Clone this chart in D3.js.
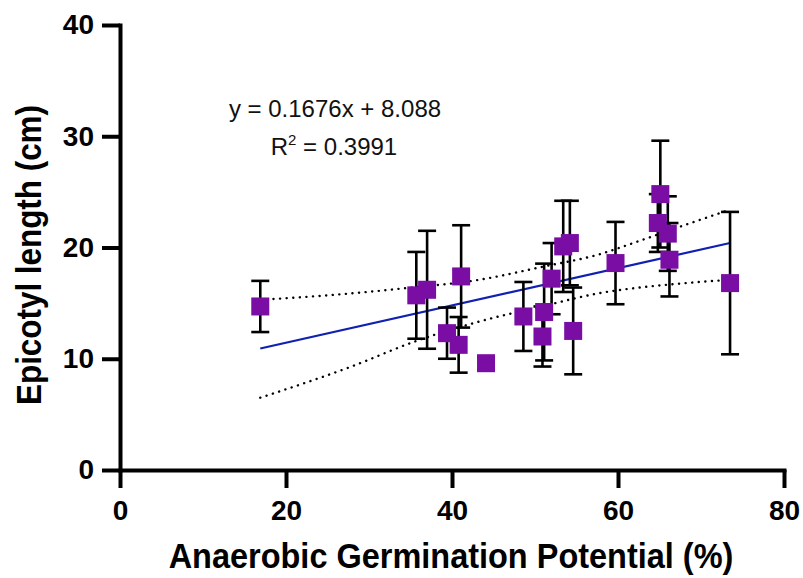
<!DOCTYPE html>
<html>
<head>
<meta charset="utf-8">
<script src="https://cdn.jsdelivr.net/npm/d3@7/dist/d3.min.js"></script>
<style>
  html, body { margin: 0; padding: 0; background: #fff; }
  svg { display: block; font-family: "Liberation Sans", Arial, sans-serif; }
</style>
</head>
<body>
<svg id="chart" width="803" height="578"></svg>
<script>
// ---- data ----
const germination = [16.9, 35.7, 37.0, 41.1, 39.4, 40.8, 44.1, 48.6, 50.9, 51.1, 52.0, 53.4, 54.2, 54.6, 59.7, 65.1, 64.8, 66.0, 66.2, 73.5];
const epicotyl    = [14.7, 15.7, 16.2, 17.4, 12.3, 11.25, 9.6, 13.8, 12.0, 14.2, 17.2, 20.1, 20.4, 12.5, 18.6, 24.8, 22.2, 21.25, 18.9, 16.8];
const errorSD     = [2.3, 3.9, 5.3, 4.6, 2.3, 2.5, 0.6, 3.1, 2.7, 4.35, 3.2, 4.1, 3.8, 3.9, 3.7, 4.8, 2.6, 3.35, 3.3, 6.4];

const slope = 0.1676, intercept = 8.088;
const fitRange = [16.9, 73.5];

const bandUpperX = [16.9, 25.0, 34.5, 43.3, 50.8, 57.8, 62.6, 67.4, 73.5];
const bandUpperY = [15.3, 15.7, 16.35, 17.1, 18.25, 19.4, 20.6, 21.85, 23.4];
const bandLowerX = [16.9, 27.7, 35.7, 43.3, 50.8, 57.8, 62.6, 67.4, 73.5];
const bandLowerY = [6.5, 9.25, 11.6, 13.35, 14.7, 15.9, 16.4, 16.75, 17.1];

const xTicks = [0, 20, 40, 60, 80];
const yTicks = [0, 10, 20, 30, 40];

const xTitle = "Anaerobic Germination Potential (%)";
const yTitle = "Epicotyl length (cm)";
const eqText = "y = 0.1676x + 8.088";
const r2Value = "0.3991";

// ---- layout ----
const svg = d3.select("#chart");
const x = d3.scaleLinear().domain([0, 80]).range([120, 784]);
const y = d3.scaleLinear().domain([0, 40]).range([470, 25]);

// axes
const xAxis = svg.append("g").attr("transform", `translate(0,${y(0)})`)
  .call(d3.axisBottom(x).tickValues(xTicks).tickSize(18).tickSizeOuter(0).tickPadding(12));
const yAxis = svg.append("g").attr("transform", `translate(${x(0)},0)`)
  .call(d3.axisLeft(y).tickValues(yTicks).tickSize(18).tickSizeOuter(0).tickPadding(8));

[xAxis, yAxis].forEach(g => {
  g.select(".domain").attr("stroke", "#000").attr("stroke-width", 4).attr("stroke-linecap", "square");
  g.selectAll(".tick line").attr("stroke", "#000").attr("stroke-width", 4);
  g.selectAll(".tick text").attr("fill", "#000").attr("font-size", 28).attr("font-weight", "bold")
    .attr("font-family", "'Liberation Sans', Arial, sans-serif");
});
xAxis.selectAll(".tick text").attr("dy", "0.72em");
yAxis.selectAll(".tick text").attr("dy", "0.32em");

// axis titles (condensed bold face, emulated with a horizontal scale)
function condensedTitle(text, size, width, placement) {
  const g = svg.append("g").attr("transform", placement);
  const t = g.append("text").attr("text-anchor", "middle")
    .attr("font-size", size).attr("font-weight", "bold").text(text);
  const len = t.node().getComputedTextLength();
  t.attr("transform", `scale(${width / len},1)`);
  return t;
}
condensedTitle(xTitle, 35, 565, "translate(451,568)");
condensedTitle(yTitle, 36, 300, "translate(41,255) rotate(-90)");

// confidence bands
const bandLine = d3.line().x(d => x(d[0])).y(d => y(d[1])).curve(d3.curveMonotoneX);
const upper = bandUpperX.map((v, i) => [v, bandUpperY[i]]);
const lower = bandLowerX.map((v, i) => [v, bandLowerY[i]]);
[upper, lower].forEach(b => {
  svg.append("path").attr("d", bandLine(b)).attr("fill", "none")
    .attr("stroke", "#000").attr("stroke-width", 2.4)
    .attr("stroke-dasharray", "0.1,6.5").attr("stroke-linecap", "round");
});

// regression line
svg.append("line")
  .attr("x1", x(fitRange[0])).attr("y1", y(slope * fitRange[0] + intercept))
  .attr("x2", x(fitRange[1])).attr("y2", y(slope * fitRange[1] + intercept))
  .attr("stroke", "#1020b0").attr("stroke-width", 2.2);

// error bars
const pts = germination.map((v, i) => ({ x: v, y: epicotyl[i], e: errorSD[i] }));
const capW = 9;
const eb = svg.append("g").attr("stroke", "#000").attr("stroke-width", 2.6);
pts.forEach(p => {
  eb.append("line").attr("x1", x(p.x)).attr("x2", x(p.x)).attr("y1", y(p.y - p.e)).attr("y2", y(p.y + p.e));
  eb.append("line").attr("x1", x(p.x) - capW).attr("x2", x(p.x) + capW).attr("y1", y(p.y + p.e)).attr("y2", y(p.y + p.e));
  eb.append("line").attr("x1", x(p.x) - capW).attr("x2", x(p.x) + capW).attr("y1", y(p.y - p.e)).attr("y2", y(p.y - p.e));
});

// markers
const ms = 18;
svg.append("g").selectAll("rect").data(pts).join("rect")
  .attr("x", d => x(d.x) - ms / 2).attr("y", d => y(d.y) - ms / 2)
  .attr("width", ms).attr("height", ms).attr("fill", "#7a0ea4");

// equation
svg.append("text").attr("x", 335).attr("y", 117).attr("text-anchor", "middle")
  .attr("font-size", 24).attr("fill", "#111").text(eqText);
const r2 = svg.append("text").attr("x", 334).attr("y", 155).attr("text-anchor", "middle")
  .attr("font-size", 24).attr("fill", "#111");
r2.append("tspan").text("R");
r2.append("tspan").attr("font-size", 15).attr("dy", -10).text("2");
r2.append("tspan").attr("dy", 10).text(" = " + r2Value);
</script>
</body>
</html>
